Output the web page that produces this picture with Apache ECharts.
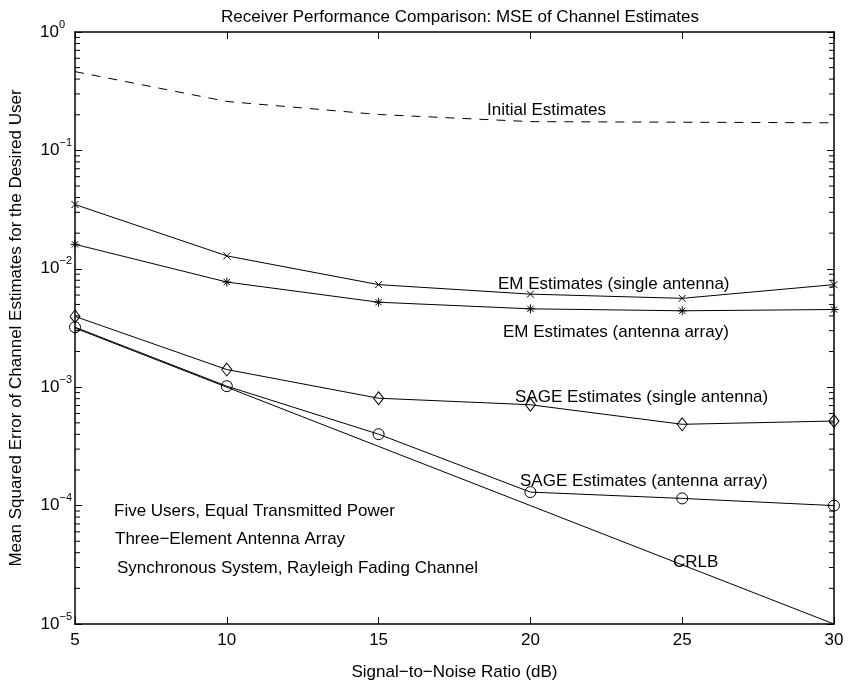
<!DOCTYPE html>
<html><head><meta charset="utf-8">
<script src="https://cdn.jsdelivr.net/npm/echarts@6/dist/echarts.min.js"></script>
<style>html,body{margin:0;padding:0;background:#fff}#c{width:848px;height:686px}</style>
</head><body><div id="c"></div>
<script>
// ---- data ----
const snr = [5, 10, 15, 20, 25, 30];
const initialEst = [0.463, 0.259, 0.201, 0.175, 0.173, 0.171];
const emSingle   = [0.0349, 0.01286, 0.00735, 0.00611, 0.00563, 0.00735];
const emArray    = [0.0161, 0.00773, 0.00522, 0.00459, 0.00442, 0.00453];
const sageSingle = [0.00396, 0.00141, 0.000807, 0.000711, 0.000486, 0.000518];
const sageArray  = [0.00321, 0.00102, 0.000401, 0.00013, 0.000115, 0.0001];
const crlb       = [0.00316, 0.001, 0.000316, 0.0001, 0.0000316, 0.00001];
const xTickVals  = [5, 10, 15, 20, 25, 30];
const yDecadeExp = [-5, -4, -3, -2, -1, 0];
const minorMantissas = [2, 3, 4, 5, 6, 7, 8, 9];

const FONT = '"Liberation Sans", Arial, sans-serif';
const FS = 17;
const pair = arr => snr.map((x, i) => [x, arr[i]]);

const minorVals = [];
yDecadeExp.slice(0, -1).forEach(e => minorMantissas.forEach(m => minorVals.push(m * Math.pow(10, e))));

const chart = echarts.init(document.getElementById('c'), null, {renderer: 'canvas'});

const xMarker = 'path://M0,0L10,10M10,0L0,10';
const starMarker = 'path://M5,0L5,10M0,5L10,5M1.5,1.5L8.5,8.5M8.5,1.5L1.5,8.5';
const diamondMarker = 'path://M5,0L10,6.5L5,13L0,6.5Z';
const circleMarker = 'circle';

function lineSeries(name, arr, symbol, size, dashed) {
  return {
    name, type: 'line', data: pair(arr), xAxisIndex: 0, yAxisIndex: 0,
    symbol: symbol || 'none', symbolSize: size || 0, showSymbol: !!symbol,
    lineStyle: {color: '#000', width: 1, type: dashed ? [9, 8] : 'solid'},
    itemStyle: {color: 'none', borderColor: '#000', borderWidth: 1},
    emphasis: {disabled: true}, animation: false, z: 3
  };
}

const axisLbl = {fontFamily: FONT, fontSize: FS, color: '#000'};
const txt = (s, x, y) => ({type: 'text', x, y, silent: true,
  style: {text: s, font: FS + 'px ' + FONT, fill: '#000', verticalAlign: 'middle'}});

const supBase = {fontFamily: FONT, fontSize: 11, color: '#000', lineHeight: 11, verticalAlign: 'top'};

const option = {
  animation: false,
  backgroundColor: '#fff',
  title: {
    text: 'Receiver Performance Comparison: MSE of Channel Estimates',
    left: 455, top: 4, textAlign: 'center',
    textStyle: {fontFamily: FONT, fontSize: FS, fontWeight: 'normal', color: '#000'}
  },
  grid: {left: 68, right: 14, top: 32, bottom: 51, containLabel: false},
  xAxis: [{
    type: 'value', min: 5, max: 30, interval: 5, position: 'bottom',
    name: 'Signal\u2212to\u2212Noise Ratio (dB)', nameLocation: 'middle', nameGap: 40,
    nameTextStyle: axisLbl,
    axisLine: {lineStyle: {color: '#000', width: 1.5}},
    axisTick: {inside: true, length: 7, lineStyle: {color: '#000', width: 1}},
    axisLabel: Object.assign({margin: 8}, axisLbl),
    splitLine: {show: false}
  }, {
    type: 'value', min: 5, max: 30, interval: 5, position: 'top',
    axisLine: {lineStyle: {color: '#000', width: 1.5}},
    axisTick: {inside: true, length: 7, lineStyle: {color: '#000', width: 1}},
    axisLabel: {show: false}, splitLine: {show: false}
  }],
  yAxis: [{
    type: 'log', logBase: 10, min: 1e-5, max: 1, interval: 1, position: 'left',
    name: 'Mean Squared Error of Channel Estimates for the Desired User',
    nameLocation: 'middle', nameGap: 50, nameTextStyle: axisLbl,
    axisLine: {lineStyle: {color: '#000', width: 1.5}},
    axisTick: {inside: true, length: 7, lineStyle: {color: '#000', width: 1}},
    axisLabel: {
      margin: 3,
      formatter: v => {
        const e = Math.round(Math.log10(v));
        return e < 0 ? '{b|10}{s|\u2212' + (-e) + '}' : '{b|10}{z|' + e + '}';
      },
      rich: {
        b: {fontFamily: FONT, fontSize: FS, color: '#000', lineHeight: 26, verticalAlign: 'middle'},
        s: supBase,
        z: Object.assign({}, supBase, {padding: [0, 7, 0, 0]})
      }
    },
    splitLine: {show: false}
  }, {
    type: 'log', logBase: 10, min: 1e-5, max: 1, interval: 1, position: 'right',
    axisLine: {lineStyle: {color: '#000', width: 1.5}},
    axisTick: {inside: true, length: 7, lineStyle: {color: '#000', width: 1}},
    axisLabel: {show: false}, splitLine: {show: false}
  }],
  series: [
    lineSeries('Initial Estimates', initialEst, null, 0, true),
    lineSeries('EM single', emSingle, xMarker, 7),
    lineSeries('EM array', emArray, starMarker, 9),
    lineSeries('SAGE single', sageSingle, diamondMarker, [10, 13]),
    lineSeries('SAGE array', sageArray, circleMarker, 11),
    lineSeries('CRLB', crlb, null, 0),
    {
      type: 'custom', xAxisIndex: 0, yAxisIndex: 0, silent: true, animation: false,
      data: minorVals.map(v => [v]),
      renderItem: (params, api) => {
        const v = api.value(0);
        const l = api.coord([5, v]);
        const r = api.coord([30, v]);
        return {type: 'group', children: [
          {type: 'line', shape: {x1: l[0], y1: l[1], x2: l[0] + 5, y2: l[1]}, style: {stroke: '#000', lineWidth: 1}},
          {type: 'line', shape: {x1: r[0] - 5, y1: r[1], x2: r[0], y2: r[1]}, style: {stroke: '#000', lineWidth: 1}}
        ]};
      }
    }
  ],
  graphic: [
    txt('Initial Estimates', 487, 110),
    txt('EM Estimates (single antenna)', 498, 284),
    txt('EM Estimates (antenna array)', 503, 332),
    txt('SAGE Estimates (single antenna)', 515, 397),
    txt('SAGE Estimates (antenna array)', 520, 481),
    txt('CRLB', 673, 562),
    txt('Five Users, Equal Transmitted Power', 114, 511),
    txt('Three\u2212Element Antenna Array', 115, 539),
    txt('Synchronous System, Rayleigh Fading Channel', 117, 568)
  ]
};
chart.setOption(option);
</script></body></html>
